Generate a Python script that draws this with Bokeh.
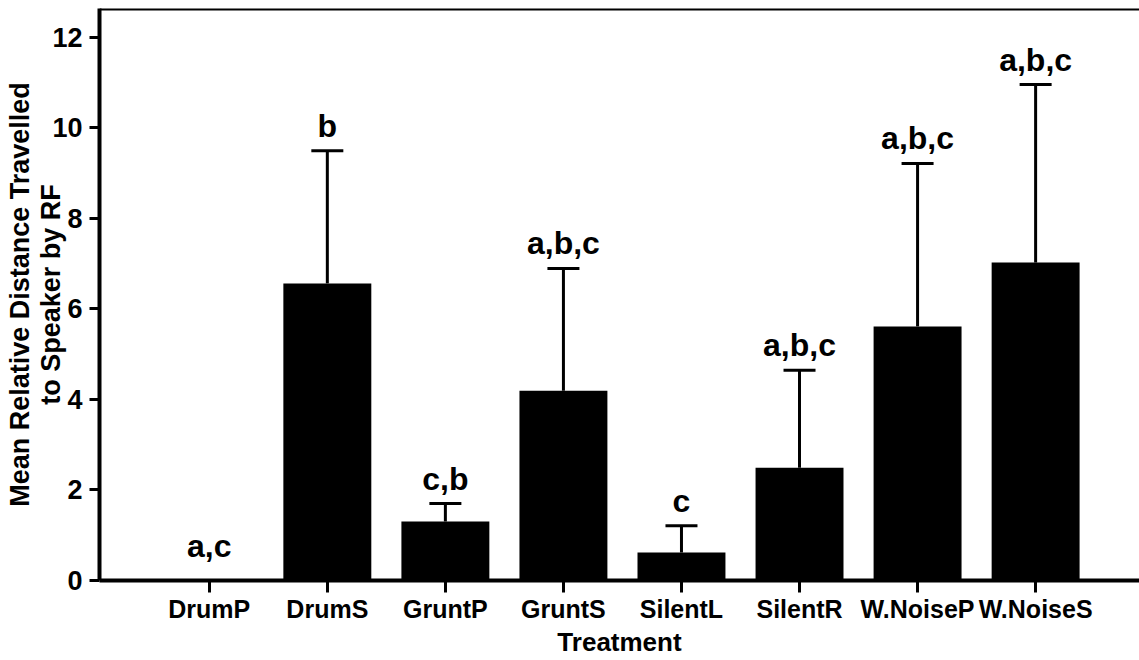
from bokeh.plotting import figure
from bokeh.models import (ColumnDataSource, FixedTicker, Range1d, Span,
                          Whisker, TeeHead)
from bokeh.core.properties import value
from bokeh.embed import file_html
from bokeh.resources import INLINE

# Treatment groups and their means with the upper error bound (mean + SEM)
treatments = ["DrumP", "DrumS", "GruntP", "GruntS",
              "SilentL", "SilentR", "W.NoiseP", "W.NoiseS"]
means = [0.0, 6.56, 1.30, 4.19, 0.62, 2.49, 5.61, 7.02]
upper_err = [0.0, 9.49, 1.70, 6.89, 1.21, 4.64, 9.21, 10.95]
letters = ["a,c", "b", "c,b", "a,b,c", "c", "a,b,c", "a,b,c", "a,b,c"]
y_ticks = [0, 2, 4, 6, 8, 10, 12]

FONT = "Liberation Sans"

xs = list(range(len(treatments)))
# letters sit just above the cap; zero-height groups get a little extra room
label_offsets = [-35 if u <= m else -25 for m, u in zip(means, upper_err)]

src = ColumnDataSource(dict(x=xs, mean=means, upper=upper_err,
                            letter=letters, yoff=label_offsets))

p = figure(width=1139, height=660, output_backend="svg", toolbar_location=None,
           x_range=Range1d(-0.93, 7.88), y_range=Range1d(0, 12.63),
           min_border_left=99, min_border_right=0, min_border_top=8,
           min_border_bottom=80)

p.background_fill_color = "white"
p.border_fill_color = "white"
p.outline_line_color = None
p.grid.visible = False

p.vbar(x="x", top="mean", width=0.745, bottom=0, source=src,
       fill_color="black", line_color=None)

p.add_layout(Whisker(source=src, base="x", upper="upper", lower="mean",
                     dimension="height", line_color="black", line_width=3,
                     upper_head=TeeHead(size=32, line_color="black", line_width=3),
                     lower_head=None))

p.text(x="x", y="upper", text="letter", source=src, y_offset="yoff",
       text_align="center", text_baseline="alphabetic",
       text_font=value(FONT), text_font_style="bold",
       text_font_size="32px", text_color="black")

# top frame line
p.add_layout(Span(location=12.63, dimension="width", line_color="black",
                  line_width=4))

# x axis
xa = p.xaxis[0]
xa.ticker = FixedTicker(ticks=xs)
xa.major_label_overrides = {i: t for i, t in enumerate(treatments)}
xa.minor_tick_line_color = None
xa.axis_line_width = 4
xa.axis_line_color = "black"
xa.major_tick_line_width = 3
xa.major_tick_line_color = "black"
xa.major_tick_out = 12
xa.major_tick_in = 0
xa.major_label_standoff = 2
xa.major_label_text_font = FONT
xa.major_label_text_font_style = "bold"
xa.major_label_text_font_size = "25px"
xa.major_label_text_color = "black"
xa.axis_label = "Treatment"
xa.axis_label_text_font = FONT
xa.axis_label_text_font_style = "bold"
xa.axis_label_text_font_size = "26px"
xa.axis_label_text_color = "black"
xa.axis_label_standoff = 1

# y axis
ya = p.yaxis[0]
ya.ticker = FixedTicker(ticks=y_ticks)
ya.minor_tick_line_color = None
ya.axis_line_width = 4
ya.axis_line_color = "black"
ya.major_tick_line_width = 3
ya.major_tick_line_color = "black"
ya.major_tick_out = 10
ya.major_tick_in = 0
ya.major_label_standoff = 7
ya.major_label_text_font = FONT
ya.major_label_text_font_style = "bold"
ya.major_label_text_font_size = "27px"
ya.major_label_text_color = "black"
ya.axis_label = "Mean Relative Distance Travelled\nto Speaker by RF"
ya.axis_label_text_font = FONT
ya.axis_label_text_font_style = "bold"
ya.axis_label_text_font_size = "27px"
ya.axis_label_text_color = "black"
ya.axis_label_text_line_height = 1.05
ya.axis_label_standoff = -17

open("out.html", "w").write(file_html(p, INLINE))
